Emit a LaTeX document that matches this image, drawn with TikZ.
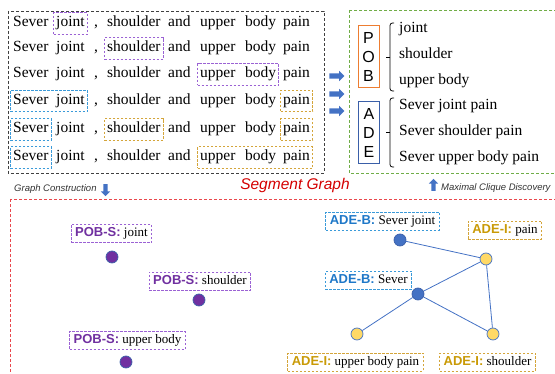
\documentclass[tikz,border=0pt]{standalone}
\usepackage{fontspec}
\setmainfont{Liberation Serif}
\setsansfont{Liberation Sans}
\usetikzlibrary{fit,shapes.arrows}
\definecolor{pobc}{HTML}{7030A0}
\definecolor{adebc}{HTML}{1F78C8}
\definecolor{adeic}{HTML}{C99A06}
\definecolor{pdash}{HTML}{9B62D4}
\definecolor{bdash}{HTML}{3A9AD9}
\definecolor{odash}{HTML}{D4A53A}
\definecolor{framegray}{HTML}{404040}
\definecolor{framegreen}{HTML}{70AD47}
\definecolor{framered}{HTML}{E8474C}
\definecolor{segred}{HTML}{D40000}
\definecolor{arrowblue}{HTML}{4472C4}
\definecolor{edgeblue}{HTML}{4472C4}
\definecolor{pobbox}{HTML}{ED7D31}
\definecolor{adebox}{HTML}{3A5FA8}
\definecolor{dotpurple}{HTML}{7030A0}
\definecolor{dotblue}{HTML}{4472C4}
\definecolor{dotyellow}{HTML}{FFD966}
\begin{document}
\begin{tikzpicture}[x=1pt,y=-1pt,
  word/.style={inner sep=0pt, text height=10pt, text depth=3pt, anchor=west, font=\fontsize{15.5}{18}\selectfont},
  wbox/.style={inner xsep=2.5pt, inner ysep=4pt, line width=0.9pt, dash pattern=on 2.5pt off 1.5pt},
  pbox/.style={wbox, draw=pdash},
  bbox/.style={wbox, draw=bdash},
  obox/.style={wbox, draw=odash},
  frame/.style={line width=0.9pt, dash pattern=on 3pt off 2pt},
  barrow/.style={single arrow, fill=arrowblue, draw=none, inner sep=2.5pt, minimum height=15pt, single arrow head extend=2.5pt},
  letterbox/.style={align=center, line width=1pt, minimum width=21pt, minimum height=62pt, inner sep=0pt, font=\sffamily\fontsize{16}{19}\selectfont},
  bracket/.style={line width=0.8pt, rounded corners=2.5pt},
  lab/.style={inner xsep=4pt, inner ysep=3pt, text height=9.5pt, text depth=2.5pt, font=\fontsize{13}{15}\selectfont, dash pattern=on 2.5pt off 1.5pt, line width=0.8pt},
  pobl/.style={lab, draw=pdash},
  adebl/.style={lab, draw=bdash},
  adeil/.style={lab, draw=odash},
  dot/.style={circle, minimum size=12pt, inner sep=0pt, line width=0.7pt},
  pdot/.style={dot, fill=dotpurple, draw=adebox},
  bdot/.style={dot, fill=dotblue, draw=adebox},
  ydot/.style={dot, fill=dotyellow, draw=dotblue},
  gedge/.style={draw=edgeblue, line width=0.8pt},
  small/.style={font=\sffamily\itshape\fontsize{9.5}{11}\selectfont, text=black!80}
]
\useasboundingbox (0,0) rectangle (555,374);

% sentence rows
\foreach \r/\y in {1/23.5,2/48.5,3/74.5,4/101,5/129.5,6/157.5} {
  \node[word] (r\r s) at (13,\y) {Sever};
  \node[word] (r\r j) at (56,\y) {joint};
  \node[word] (r\r c) at (94,\y) {,};
  \node[word] (r\r sh) at (107,\y) {shoulder};
  \node[word] (r\r a) at (168,\y) {and};
  \node[word] (r\r u) at (200,\y) {upper};
  \node[word] (r\r b) at (245,\y) {body};
  \node[word] (r\r p) at (283,\y) {pain};
}
\node[pbox, fit=(r1j)] (f1) {};
\node[pbox, fit=(r2sh)] (f2) {};
\node[pbox, fit=(r3u)(r3b)] (f3) {};
\node[bbox, fit=(r4s)(r4j)] (f4a) {};
\node[obox, fit=(r4p)] (f4b) {};
\node[bbox, fit=(r5s)] (f5a) {};
\node[obox, fit=(r5sh)] (f5b) {};
\node[obox, fit=(r5p)] (f5c) {};
\node[bbox, fit=(r6s)] (f6a) {};
\node[obox, fit=(r6u)(r6p)] (f6b) {};

% frames
\draw[frame, draw=framegray] (8,11) rectangle (324,173);
\begin{scope}
  \clip (0,0) rectangle (555,374);
  \draw[frame, draw=framegreen] (349,10) rectangle (560,173);
  \draw[frame, draw=framered] (10,199) rectangle (560,380);
\end{scope}

% arrows between boxes
\node[barrow] (a1) at (335.5,76) {};
\node[barrow] (a2) at (335.5,94) {};
\node[barrow] (a3) at (335.5,111) {};

% POB / ADE
\node[letterbox, draw=pobbox] (pob) at (368.5,57) {P\\O\\B};
\node[letterbox, draw=adebox] (ade) at (369,133) {A\\D\\E};
\draw[bracket] (394,23) -- (390,23) -- (390,91) -- (394,91);
\draw[line width=0.8pt] (390,57) -- (385.5,57);
\draw[bracket] (394,98) -- (390,98) -- (390,167) -- (394,167);
\draw[line width=0.8pt] (390,132.5) -- (385.5,132.5);
\node[word] (t1) at (399,29) {joint};
\node[word] (t2) at (399,55) {shoulder};
\node[word] (t3) at (399,81) {upper body};
\node[word] (t4) at (399,106) {Sever joint pain};
\node[word] (t5) at (399,132) {Sever shoulder pain};
\node[word] (t6) at (399,158) {Sever upper body pain};

% middle captions
\node[small, anchor=west, inner sep=0pt] (gc) at (14,189) {Graph Construction};
\node[barrow, inner sep=2pt, minimum height=12pt, shape border rotate=270] (dn) at (105.5,189) {};
\node[font=\sffamily\itshape\fontsize{15.5}{18}\selectfont, text=segred, inner sep=0pt] (seg) at (295,185) {Segment Graph};
\node[barrow, inner sep=2pt, minimum height=12pt, shape border rotate=90] (up) at (433.5,186) {};
\node[small, anchor=west, inner sep=0pt] (mcd) at (441,188) {Maximal Clique Discovery};

% POB-S labels and dots
\node[pobl] (lj) at (111.5,233.5) {\textsf{\bfseries\color{pobc}POB-S:} joint};
\node[pobl] (ls) at (200,281) {\textsf{\bfseries\color{pobc}POB-S:} shoulder};
\node[pobl] (lu) at (127.5,340.5) {\textsf{\bfseries\color{pobc}POB-S:} upper body};
\node[pdot] (dj) at (112,257) {};
\node[pdot] (dsh) at (199,300) {};
\node[pdot] (du) at (126,362) {};

% ADE labels
\node[adebl] (lsj) at (382.5,221) {\textsf{\bfseries\color{adebc}ADE-B:} Sever joint};
\node[adeil] (lp) at (505,230) {\textsf{\bfseries\color{adeic}ADE-I:} pain};
\node[adebl] (lsv) at (368.5,280.5) {\textsf{\bfseries\color{adebc}ADE-B:} Sever};
\node[adeil] (lubp) at (355.5,362) {\textsf{\bfseries\color{adeic}ADE-I:} upper body pain};
\node[adeil] (lsh) at (487.5,362) {\textsf{\bfseries\color{adeic}ADE-I:} shoulder};

% graph
\node[bdot] (gsj) at (400,240) {};
\node[bdot] (gsv) at (418,294) {};
\node[ydot] (gp) at (486,259) {};
\node[ydot] (gub) at (357,334) {};
\node[ydot] (gsh) at (493,334) {};
\draw[gedge] (gsj) -- (gp);
\draw[gedge] (gp) -- (gsv);
\draw[gedge] (gp) -- (gsh);
\draw[gedge] (gsv) -- (gub);
\draw[gedge] (gsv) -- (gsh);
\end{tikzpicture}
\end{document}
